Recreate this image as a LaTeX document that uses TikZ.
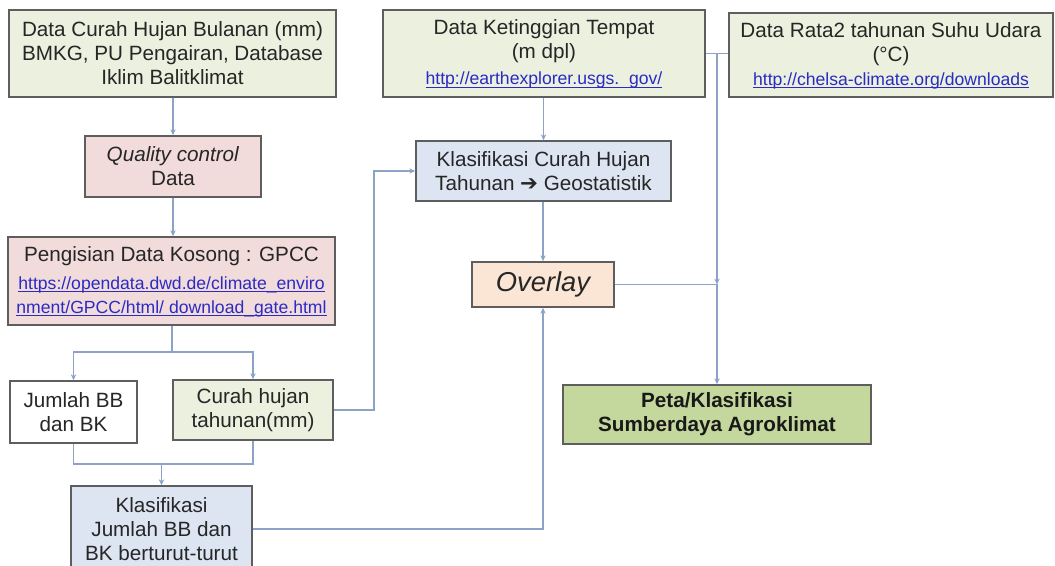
\documentclass[tikz,border=0pt]{standalone}
\usepackage{fontspec}
\setmainfont{Liberation Sans}
\newfontfamily\dejavu{DejaVu Sans}
\usetikzlibrary{arrows.meta}
\definecolor{txt}{HTML}{262626}
\definecolor{lnk}{HTML}{2B2BC4}
\definecolor{bord}{HTML}{5E5E5E}
\definecolor{conn}{HTML}{8CA3C7}
\definecolor{fgreen}{HTML}{EBF0DF}
\definecolor{fpink}{HTML}{F2DCDB}
\definecolor{fblue}{HTML}{DCE5F1}
\definecolor{fpeach}{HTML}{FBE6D6}
\definecolor{fpeta}{HTML}{C4D79C}
\newcommand{\lk}[1]{{\fontsize{13.2}{18}\selectfont\color{lnk}\underline{\smash{#1}}}}
\tikzset{
  boxbase/.style={draw=bord, line width=1.1pt, inner sep=0pt, align=center, text=txt,
    font=\fontsize{15.5}{18}\selectfont},
  gbox/.style={boxbase, fill=fgreen},
  pbox/.style={boxbase, fill=fpink},
  bbox/.style={boxbase, fill=fblue},
  wbox/.style={boxbase, fill=white},
  conline/.style={draw=conn, line width=1pt},
  conarrow/.style={conline, -{Stealth[length=4.5pt,width=4pt]}}
}
\begin{document}
\begin{tikzpicture}[x=0.75pt,y=-0.75pt]
\path[use as bounding box, fill=white] (0,0) rectangle (1055,566);
\clip (0,0) rectangle (1055,566);

% nodes
\node[gbox, minimum width=245.25pt, minimum height=65.25pt] (dch) at (172.5,53.5)
  {Data Curah Hujan Bulanan (mm)\\BMKG, PU Pengairan, Database\\Iklim Balitklimat};
\node[pbox, minimum width=132pt, minimum height=45.75pt] (qc) at (173,166.5)
  {\textit{Quality control}\\Data};
\node[pbox, minimum width=245.25pt, minimum height=66pt] (pgs) at (171.5,281)
  {Pengisian Data Kosong : GPCC\\[3pt]
   \lk{https://opendata.dwd.de/climate\_enviro}\\
   \lk{nment/GPCC/html/ download\_gate.html}};
\node[wbox, minimum width=95.25pt, minimum height=46.5pt] (jml) at (73.5,412)
  {Jumlah BB\\dan BK};
\node[gbox, minimum width=120pt, minimum height=45pt] (chy) at (253,410)
  {Curah hujan\\tahunan(mm)};
\node[bbox, minimum width=135.75pt, minimum height=64.5pt] (kj) at (161.5,529)
  {Klasifikasi\\Jumlah BB dan\\BK berturut-turut};
\node[gbox, minimum width=241.5pt, minimum height=65.25pt] (dk) at (544,53.5)
  {Data Ketinggian Tempat\\(m dpl)\\[2pt]\lk{http://earthexplorer.usgs.\ \ gov/}};
\node[gbox, minimum width=243pt, minimum height=63pt] (dr) at (891,55)
  {Data Rata2 tahunan Suhu Udara\\(°C)\\\lk{http://chelsa-climate.org/downloads}};
\node[bbox, minimum width=191.25pt, minimum height=45pt] (kch) at (543.5,171)
  {Klasifikasi Curah Hujan\\Tahunan {\dejavu\fontsize{16}{18}\selectfont ➔} Geostatistik};
\node[boxbase, fill=fpeach, minimum width=106.5pt, minimum height=33.75pt,
  font=\itshape\fontsize{20.5}{24}\selectfont] (ov) at (543,284.5) {Overlay};
\node[boxbase, fill=fpeta, minimum width=231pt, minimum height=44.25pt,
  font=\bfseries\fontsize{15.5}{18}\selectfont, text=black!90] (peta) at (717,414.5)
  {Peta/Klasifikasi\\Sumberdaya Agroklimat};

% coordinates
\coordinate (s1) at (172,352);
\coordinate (m1) at (161.5,464);
\coordinate (r1) at (374,410);
\coordinate (j1) at (717,53.5);
\coordinate (j2) at (717,284.5);

% connectors
\draw[conarrow] (dch.south -| qc.north) -- (qc.north);
\draw[conarrow] (qc.south) -- (pgs.north -| qc.south);
\draw[conline] (pgs.south -| s1) -- (s1);
\draw[conarrow] (s1) -| (jml.north);
\draw[conarrow] (s1) -| (chy.north);
\draw[conline] (jml.south) |- (m1) -| (chy.south);
\draw[conarrow] (m1) -- (kj.north);
\draw[conarrow] (chy.east) -- (r1 |- chy.east) |- (kch.west);
\draw[conarrow] (dk.south -| kch.north) -- (kch.north);
\draw[conarrow] (kch.south -| ov.north) -- (ov.north);
\draw[conarrow] (kj.east) -| (ov.south);
\draw[conline] (dk.east) -- (dr.west |- dk.east);
\draw[conarrow] (j1) -- (j2);
\draw[conline] (ov.east) -- (j2);
\draw[conarrow] (j2) -- (peta.north);
\end{tikzpicture}
\end{document}
